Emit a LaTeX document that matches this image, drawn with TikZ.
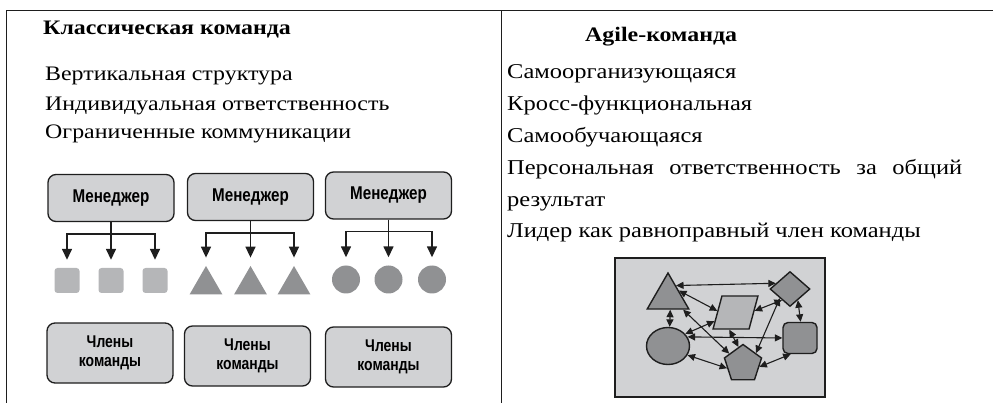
\documentclass[tikz,border=0pt]{standalone}
\usepackage{fontspec}
\setmainfont{Liberation Serif}[FakeStretch=1.16]
\newfontfamily\boxfont{Liberation Sans}[FakeStretch=0.82]
\usetikzlibrary{arrows.meta,shapes.geometric}

\definecolor{boxgray}{HTML}{D1D2D4}
\definecolor{lightshape}{HTML}{B5B6B8}
\definecolor{darkshape}{HTML}{909193}
\definecolor{inkline}{HTML}{1E1E1E}

\tikzset{
  rule/.style={draw=inkline, line width=1.5pt},
  bodytext/.style={anchor=base west, inner sep=0pt, font=\fontsize{20.6}{25}\selectfont},
  bodytextR/.style={anchor=base west, inner sep=0pt, font=\fontsize{21.1}{25}\selectfont},
  headtext/.style={anchor=base west, inner sep=0pt, font=\bfseries\fontsize{20.6}{25}\selectfont},
  mgrbox/.style={draw=inkline, line width=1.3pt, fill=boxgray, rounded corners=8pt,
    minimum width=126pt, minimum height=47pt, inner sep=0pt,
    font=\boxfont\bfseries\fontsize{18.5}{20}\selectfont},
  membox/.style={mgrbox, minimum height=60pt, align=center,
    font=\boxfont\bfseries\fontsize{17}{19}\selectfont},
  sqshape/.style={fill=lightshape, rounded corners=3pt, minimum size=25pt, inner sep=0pt},
  trishape/.style={regular polygon, regular polygon sides=3, fill=darkshape, minimum size=38pt, inner sep=0pt},
  dotshape/.style={circle, fill=darkshape, minimum size=28pt, inner sep=0pt},
  tree/.style={draw=inkline, line width=1.5pt, -{Triangle[length=11pt,width=10pt]}, shorten >=8pt},
  gshape/.style={draw=inkline, line width=1.4pt, fill=darkshape, inner sep=0pt},
  link/.style={draw=inkline, line width=1.1pt, {Triangle[length=7.5pt,width=7pt]}-{Triangle[length=7.5pt,width=7pt]}}
}

\begin{document}
\begin{tikzpicture}[x=1pt,y=1pt]
\useasboundingbox (0,0) rectangle (993,-403);

% table rules
\draw[rule] (6.5,-10.3) -- (993,-10.3);
\draw[rule] (6.5,-10.3) -- (6.5,-403);
\draw[rule] (501.7,-10.3) -- (501.7,-403);

% left column: classical team
\node[headtext] (hL) at (43,-35) {Классическая команда};
\node[bodytext] (l1) at (45,-81) {Вертикальная структура};
\node[bodytext] (l2) at (45,-111) {Индивидуальная ответственность};
\node[bodytext] (l3) at (45,-139) {Ограниченные коммуникации};

% managers
\node[mgrbox] (m1) at (111,-198) {Менеджер};
\node[mgrbox] (m2) at (250.5,-197) {Менеджер};
\node[mgrbox] (m3) at (388.5,-195.5) {Менеджер};

% subordinates
\node[sqshape] (s1) at (67,-280.5) {};
\node[sqshape] (s2) at (111,-280.5) {};
\node[sqshape] (s3) at (155,-280.5) {};
\node[trishape] (t1) at (206,-285) {};
\node[trishape] (t2) at (250.5,-285) {};
\node[trishape] (t3) at (294,-285) {};
\node[dotshape] (c1) at (346,-279.5) {};
\node[dotshape] (c2) at (388.5,-279.5) {};
\node[dotshape] (c3) at (432,-279.5) {};

% reporting lines
\foreach \m/\a/\b/\c in {m1/s1/s2/s3, m2/t1/t2/t3, m3/c1/c2/c3}{
  \draw[tree] (\m.south) -- ++(0,-12) -| (\a.north);
  \draw[tree] (\m.south) -- ++(0,-12) -| (\b.north);
  \draw[tree] (\m.south) -- ++(0,-12) -| (\c.north);
}

% team members
\node[membox] (k1) at (110,-353) {Члены\\команды};
\node[membox] (k2) at (247.5,-356) {Члены\\команды};
\node[membox] (k3) at (388.5,-357) {Члены\\команды};

% right column: agile team
\node[headtext] (hR) at (585,-42) {Agile-команда};
\node[bodytextR] (r1) at (507,-79) {Самоорганизующаяся};
\node[bodytextR] (r2) at (507,-111) {Кросс-функциональная};
\node[bodytextR] (r3) at (507,-143) {Самообучающаяся};
\node[bodytextR] (r4) at (507,-175) {\makebox[455pt][s]{Персональная ответственность за общий}};
\node[bodytextR] (r5) at (507,-207) {результат};
\node[bodytextR] (r6) at (507,-238) {Лидер как равноправный член команды};

% network of equal members
\node[draw=inkline, line width=1.3pt, fill=boxgray, minimum width=210pt, minimum height=139pt, inner sep=0pt] (net) at (720,-327.5) {};
\node[gshape, regular polygon, regular polygon sides=3, minimum size=48pt] (tri) at (668,-297) {};
\node[gshape, diamond, minimum width=40pt, minimum height=35pt] (dia) at (790,-289) {};
\node[gshape, fill=lightshape, xslant=0.27, transform shape,
      minimum width=36pt, minimum height=33pt] (par) at (735.5,-312.5) {};
\node[gshape, ellipse, minimum width=43pt, minimum height=37pt] (ell) at (668,-346) {};
\node[gshape, rounded corners=5pt, minimum width=34pt, minimum height=31pt] (sq) at (800,-338) {};
\node[gshape, regular polygon, regular polygon sides=5, minimum size=39pt] (pen) at (743,-364) {};

\draw[link] (tri.55) -- (dia.158);
\draw[link] (tri.30) -- (par.175);
\draw[link] (tri.-80) -- (ell.85);
\draw[link] (tri.-40) -- (pen.143);
\draw[link] (par.5) -- (dia.234);
\draw[link] (par.205) -- (ell.35);
\draw[link] (par.-95) -- (pen.105);
\draw[link] (ell.25) -- (sq.180);
\draw[link] (ell.-25) -- (pen.195);
\draw[link] (dia.222) -- (pen.40);
\draw[link] (dia.-55) -- (sq.88);
\draw[link] (pen.-10) -- (sq.240);
\end{tikzpicture}
\end{document}
